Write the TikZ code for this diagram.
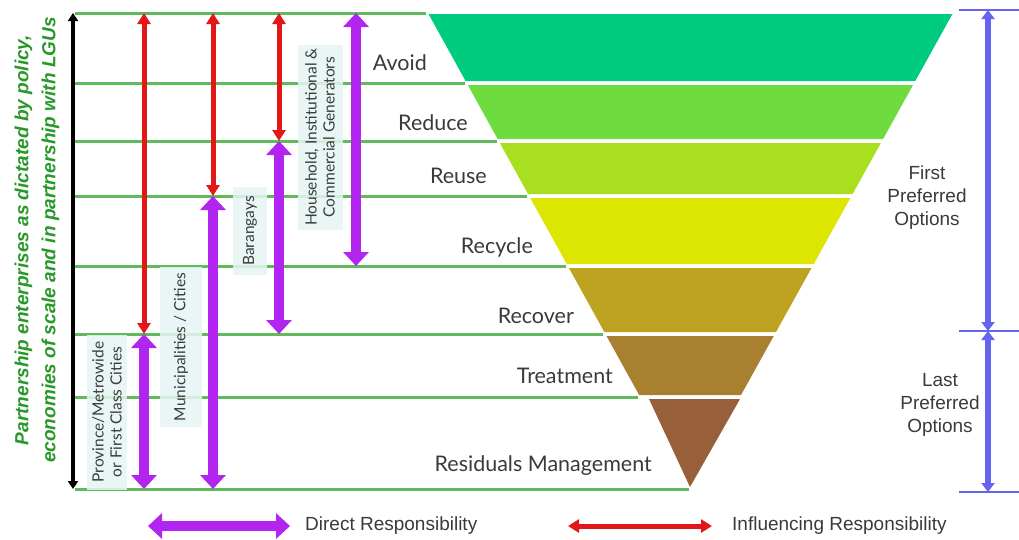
\documentclass[tikz,border=0pt]{standalone}
\usepackage{fontspec}
\setmainfont{Lato}
\newfontfamily\arialfont{Liberation Sans}
\usetikzlibrary{arrows.meta, positioning, calc}

\definecolor{levelGreen}{RGB}{96,186,92}
\definecolor{textGreen}{RGB}{40,152,40}
\definecolor{directPurple}{RGB}{178,36,240}
\definecolor{inflRed}{RGB}{226,24,24}
\definecolor{optBlue}{RGB}{100,100,238}
\definecolor{labelGray}{RGB}{58,58,58}
\definecolor{boxFill}{RGB}{230,245,245}
\definecolor{avoidCol}{RGB}{0,204,128}
\definecolor{reduceCol}{RGB}{110,220,62}
\definecolor{reuseCol}{RGB}{168,224,32}
\definecolor{recycleCol}{RGB}{221,230,0}
\definecolor{recoverCol}{RGB}{190,162,34}
\definecolor{treatCol}{RGB}{168,128,48}
\definecolor{residCol}{RGB}{152,96,58}

\begin{document}
\begin{tikzpicture}[
    x=1pt, y=-1pt,
    every node/.style={inner sep=0pt},
    level/.style={draw=levelGreen, line width=3pt},
    tier/.style={font=\fontsize{21.5}{24}\selectfont, text=labelGray, anchor=east},
    actor/.style={
        rotate=90,
        fill=boxFill,
        fill opacity=0.85,
        text opacity=1,
        align=center,
        text=labelGray,
        font=\fontsize{15.5}{18}\selectfont
    },
    option/.style={font=\arialfont\fontsize{19}{23}\selectfont, text=labelGray, align=center},
    legend/.style={font=\arialfont\fontsize{19}{22}\selectfont, text=labelGray, anchor=west},
    direct/.style={draw=directPurple, line width=10pt,
        {Triangle[width=25pt, length=14pt]}-{Triangle[width=25pt, length=14pt]}},
    influence/.style={draw=inflRed, line width=5pt,
        {Triangle[width=13pt, length=11pt]}-{Triangle[width=13pt, length=11pt]}},
    span/.style={draw=black, line width=4pt,
        {Triangle[width=10pt, length=8pt]}-{Triangle[width=10pt, length=8pt]}},
    pref/.style={draw=optBlue, line width=6pt,
        {Triangle[width=13pt, length=9pt]}-{Triangle[width=13pt, length=9pt]}}
]
\useasboundingbox (0,0) rectangle (1019,539);

% levels of the hierarchy
\coordinate (lv0) at (0,13);
\coordinate (lv1) at (0,83);
\coordinate (lv2) at (0,141);
\coordinate (lv3) at (0,196);
\coordinate (lv4) at (0,266);
\coordinate (lv5) at (0,334);
\coordinate (lv6) at (0,397);
\coordinate (lv7) at (0,489);

% green guide lines, ending on the left side of the funnel
\foreach \y in {13,83,141,196,266,334,397,489}{
    \pgfmathsetmacro\xl{428+0.5527*(\y-13)-2}
    \draw[level] (75,\y) -- (\xl,\y);
}

% funnel bands
\foreach \ya/\yb/\col in {14/81/avoidCol, 85/139/reduceCol, 143/194/reuseCol,
        198/264/recycleCol, 268/332/recoverCol, 336/395/treatCol}{
    \pgfmathsetmacro\xa{428+0.5527*(\ya-13)}
    \pgfmathsetmacro\xb{953-0.5549*(\ya-13)}
    \pgfmathsetmacro\xc{953-0.5549*(\yb-13)}
    \pgfmathsetmacro\xd{428+0.5527*(\yb-13)}
    \fill[\col] (\xa,\ya) -- (\xb,\ya) -- (\xc,\yb) -- (\xd,\yb) -- cycle;
}
\fill[residCol] (649,399) -- (740,399) -- (690,487) -- cycle;

\node[tier] (avoid) at (427,63) {Avoid};
\node[tier] (reduce) at (468,123) {Reduce};
\node[tier] (reuse) at (487,176) {Reuse};
\node[tier] (recycle) at (533,247) {Recycle};
\node[tier] (recover) at (574,316) {Recover};
\node[tier] (treat) at (613,376) {Treatment};
\node[tier] (resid) at (652,466) {Residuals Management};

% who is responsible
\node[actor, minimum width=185pt, minimum height=45pt] (hic) at (320,137)
    {Household, Institutional \&\\Commercial Generators};
\node[actor, minimum width=88pt, minimum height=34pt] (brgy) at (250,231) {Barangays};
\node[actor, minimum width=160pt, minimum height=42pt] (muni) at (181,347) {Municipalities / Cities};
\node[actor, minimum width=155pt, minimum height=40pt] (prov) at (107,412)
    {Province/Metrowide\\or First Class Cities};

\coordinate (blk) at (73,0);
\coordinate (c1) at (144,0);
\coordinate (c2) at (213,0);
\coordinate (c3) at (279,0);
\coordinate (c4) at (356,0);

\draw[span] (blk |- lv0) -- (blk |- lv7);
\draw[influence] (c1 |- lv0) -- (c1 |- lv5);
\draw[direct] (c1 |- lv5) -- (c1 |- lv7);
\draw[influence] (c2 |- lv0) -- (c2 |- lv3);
\draw[direct] (c2 |- lv3) -- (c2 |- lv7);
\draw[influence] (c3 |- lv0) -- (c3 |- lv2);
\draw[direct] (c3 |- lv2) -- (c3 |- lv5);
\draw[direct] (c4 |- lv0) -- (c4 |- lv4);

\node[rotate=90, align=center, text=textGreen,
      font=\arialfont\bfseries\itshape\fontsize{19}{27}\selectfont] (partner) at (37,240)
    {Partnership enterprises as dictated by policy,\\economies of scale and in partnership with LGUs};

% preference scale
\coordinate (r0) at (988,10);
\coordinate (r1) at (988,331);
\coordinate (r2) at (988,492);
\foreach \r in {r0,r1,r2}
    \draw[optBlue, line width=2pt] (\r) ++(-29,0) -- ++(60,0);
\draw[pref] (r0) -- (r1);
\draw[pref] (r1) -- (r2);

\node[option] (first) at (927,198) {First\\Preferred\\Options};
\node[option] (last) at (940,405) {Last\\Preferred\\Options};

% legend
\coordinate (dirA) at (148,526);
\coordinate (dirB) at (290,526);
\coordinate (infA) at (568,526);
\coordinate (infB) at (712,526);
\draw[direct] (dirA) -- (dirB);
\node[legend] (legDirect) at (305,526) {Direct Responsibility};
\draw[influence] (infA) -- (infB);
\node[legend] (legInfl) at (732,526) {Influencing Responsibility};

\end{tikzpicture}
\end{document}
